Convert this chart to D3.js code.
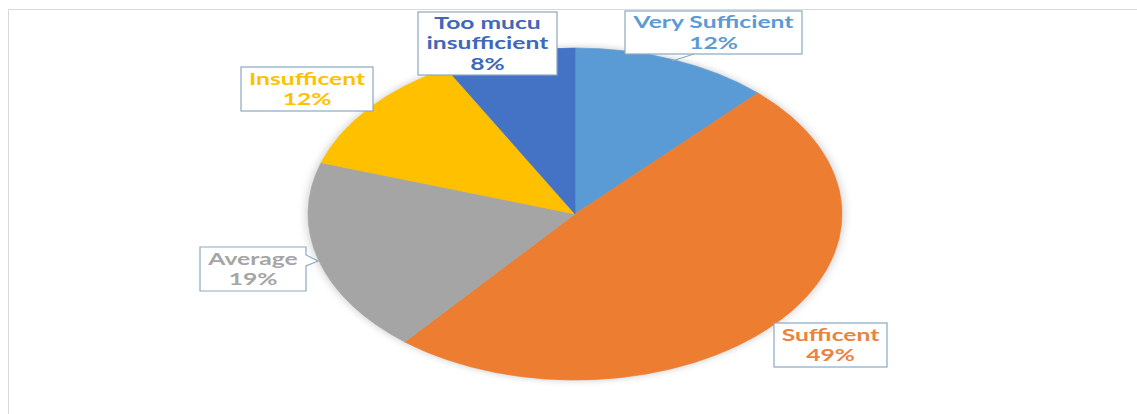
<!DOCTYPE html>
<html><head><meta charset="utf-8">
<script src="https://cdn.jsdelivr.net/npm/d3@7"></script>
<style>html,body{margin:0;padding:0;background:#fff;}svg{display:block;}</style>
</head><body>
<svg id="chart" width="1137" height="414"></svg>
<script>
const categories = ["Very Sufficient", "Sufficent", "Average", "Insufficent", "Too mucu insufficient"];
const values = [12, 49, 19, 12, 8];
const labelLines = [["Very Sufficient"], ["Sufficent"], ["Average"], ["Insufficent"], ["Too mucu", "insufficient"]];
const colors = ["#5B9BD5", "#ED7D31", "#A5A5A5", "#FFC000", "#4472C4"];
const textColors = ["#5B9BD5", "#E8843F", "#A5A5A5", "#FFC000", "#4068B8"];

// layout
const W = 1137, H = 414;
const cx = 575, cy = 214, ry = 166, rx = 267;
const boxes = [
  {x: 625, y: 11, w: 177, h: 43, leader: [[694, 54], [672, 61]]},
  {x: 774, y: 323, w: 113, h: 44},
  {x: 200, y: 247, w: 106, h: 44, notch: true},
  {x: 241, y: 67, w: 132, h: 44},
  {x: 418, y: 12, w: 139, h: 63}
];

const svg = d3.select("#chart");
const defs = svg.append("defs");
const f = defs.append("filter").attr("id", "glow").attr("x", "-20%").attr("y", "-20%").attr("width", "140%").attr("height", "140%");
f.append("feGaussianBlur").attr("stdDeviation", 3);

// frame
svg.append("line").attr("x1", 8).attr("x2", W).attr("y1", 9.5).attr("y2", 9.5).attr("stroke", "#d9d9d9");
svg.append("line").attr("x1", 8.5).attr("x2", 8.5).attr("y1", 9).attr("y2", H).attr("stroke", "#d9d9d9");

const pie = d3.pie().sort(null).value(d => d);
const arcs = pie(values);
const arc = d3.arc().innerRadius(0).outerRadius(ry);

const g = svg.append("g").attr("transform", `translate(${cx},${cy}) scale(${rx / ry},1)`);
g.append("circle").attr("r", ry + 1).attr("fill", "#000").attr("opacity", 0.18).attr("filter", "url(#glow)");
g.selectAll("path.slice").data(arcs).enter().append("path")
  .attr("class", "slice")
  .attr("d", arc)
  .attr("fill", (d, i) => colors[i])
  .attr("stroke", (d, i) => colors[i]).attr("stroke-width", 0.5);

// labels
const border = "#8BA9C4";
const lg = svg.append("g");
boxes.forEach((b, i) => {
  if (b.notch) {
    const p = d3.path();
    p.moveTo(b.x, b.y); p.lineTo(b.x + b.w, b.y); p.lineTo(b.x + b.w, b.y + 8);
    p.lineTo(b.x + b.w + 12, b.y + 14); p.lineTo(b.x + b.w, b.y + 19);
    p.lineTo(b.x + b.w, b.y + b.h); p.lineTo(b.x, b.y + b.h); p.closePath();
    lg.append("path").attr("d", p.toString()).attr("fill", "#fff").attr("stroke", border).attr("stroke-width", 1.2);
  } else {
    lg.append("rect").attr("x", b.x).attr("y", b.y).attr("width", b.w).attr("height", b.h)
      .attr("fill", "#fff").attr("stroke", border).attr("stroke-width", 1.2);
  }
  if (b.leader) {
    lg.append("line").attr("x1", b.leader[0][0]).attr("y1", b.leader[0][1])
      .attr("x2", b.leader[1][0]).attr("y2", b.leader[1][1]).attr("stroke", border).attr("stroke-width", 1.2);
  }
  const lines = labelLines[i].concat([values[i] + "%"]);
  const lh = 20.5;
  const top = b.y + b.h / 2 - (lines.length * lh) / 2;
  lines.forEach((t, j) => {
    lg.append("text")
      .attr("class", "lbl")
      .attr("transform", `translate(${b.x + b.w / 2},${top + lh * (j + 1) - 4.5}) scale(1,1)`)
      .attr("text-anchor", "middle")
      .attr("font-family", "Lato, 'Noto Sans', sans-serif")
      .attr("font-weight", "bold")
      .attr("font-size", 17)
      .attr("fill", textColors[i])
      .text(t);
  });
});
// stretch text horizontally like the reference
const probe = lg.selectAll("text.lbl").filter(function () { return this.textContent === "Very Sufficient"; }).node();
const sx = 160 / probe.getComputedTextLength();
lg.selectAll("text.lbl").attr("transform", function () {
  return this.getAttribute("transform").replace("scale(1,1)", `scale(${sx},1)`);
});
</script>
</body></html>
